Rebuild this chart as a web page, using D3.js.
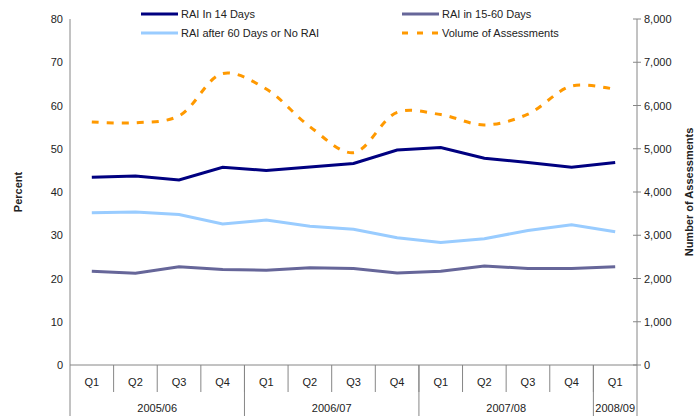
<!DOCTYPE html>
<html>
<head>
<meta charset="utf-8">
<script src="https://cdn.jsdelivr.net/npm/d3@7"></script>
<style>
  body { margin: 0; background: #fff; }
  text { font-family: "Liberation Sans", Arial, sans-serif; fill: #222; }
</style>
</head>
<body>
<div id="chart"></div>
<script>
const width = 696;
const height = 416;

// Data
const quarters = ["Q1","Q2","Q3","Q4","Q1","Q2","Q3","Q4","Q1","Q2","Q3","Q4","Q1"];
const years = [
  {label: "2005/06", n: 4},
  {label: "2006/07", n: 4},
  {label: "2007/08", n: 4},
  {label: "2008/09", n: 1}
];
const rai14 = [43.4, 43.7, 42.8, 45.7, 45.0, 45.8, 46.6, 49.7, 50.3, 47.8, 46.8, 45.7, 46.8];
const rai1560 = [21.7, 21.2, 22.7, 22.1, 21.9, 22.5, 22.3, 21.3, 21.7, 22.9, 22.3, 22.3, 22.7];
const raiAfter60 = [35.2, 35.4, 34.8, 32.6, 33.5, 32.1, 31.4, 29.4, 28.3, 29.2, 31.1, 32.4, 30.8];
const volume = [5620, 5600, 5760, 6740, 6380, 5510, 4910, 5840, 5790, 5550, 5800, 6450, 6370];
const leftTicks = [0, 10, 20, 30, 40, 50, 60, 70, 80];
const rightTicks = [0, 1000, 2000, 3000, 4000, 5000, 6000, 7000, 8000];

const plot = {left: 70, right: 637, top: 19, bottom: 365};
const axisColor = "#868686";

const svg = d3.select("#chart")
    .append("svg")
    .attr("width", width)
    .attr("height", height);

const x = d3.scaleBand()
    .domain(d3.range(quarters.length))
    .range([plot.left, plot.right]);

const yLeft = d3.scaleLinear().domain([0, 80]).range([plot.bottom, plot.top]);
const yRight = d3.scaleLinear().domain([0, 8000]).range([plot.bottom, plot.top]);

const cx = i => x(i) + x.bandwidth() / 2;

// Left axis
svg.append("line")
    .attr("x1", plot.left).attr("x2", plot.left)
    .attr("y1", plot.top).attr("y2", height)
    .attr("stroke", axisColor);

svg.selectAll(".ltick")
    .data(leftTicks)
    .enter()
    .append("text")
    .attr("x", 63)
    .attr("y", d => yLeft(d) + 4)
    .attr("text-anchor", "end")
    .attr("font-size", 11)
    .text(d => d);

// Right axis
svg.append("line")
    .attr("x1", plot.right).attr("x2", plot.right)
    .attr("y1", plot.top).attr("y2", height)
    .attr("stroke", axisColor);

svg.selectAll(".rtickline")
    .data(rightTicks)
    .enter()
    .append("line")
    .attr("x1", plot.right - 4).attr("x2", plot.right + 4)
    .attr("y1", d => yRight(d)).attr("y2", d => yRight(d))
    .attr("stroke", axisColor);

svg.selectAll(".rtick")
    .data(rightTicks)
    .enter()
    .append("text")
    .attr("x", 644)
    .attr("y", d => yRight(d) + 4)
    .attr("font-size", 11)
    .text(d => d3.format(",")(d));

// Bottom axis
svg.append("line")
    .attr("x1", plot.left).attr("x2", plot.right)
    .attr("y1", plot.bottom).attr("y2", plot.bottom)
    .attr("stroke", axisColor);

svg.selectAll(".qdiv")
    .data(d3.range(1, quarters.length))
    .enter()
    .append("line")
    .attr("x1", d => x(d)).attr("x2", d => x(d))
    .attr("y1", plot.bottom).attr("y2", 392)
    .attr("stroke", axisColor);

svg.selectAll(".qlabel")
    .data(quarters)
    .enter()
    .append("text")
    .attr("x", (d, i) => cx(i))
    .attr("y", 386)
    .attr("text-anchor", "middle")
    .attr("font-size", 11)
    .text(d => d);

// Year groups
let start = 0;
years.forEach(yr => {
    const x0 = x(start);
    const x1 = x(start + yr.n - 1) + x.bandwidth();
    if (start > 0) {
        svg.append("line")
            .attr("x1", x0).attr("x2", x0)
            .attr("y1", plot.bottom).attr("y2", height)
            .attr("stroke", axisColor);
    }
    svg.append("text")
        .attr("x", (x0 + x1) / 2)
        .attr("y", 412)
        .attr("text-anchor", "middle")
        .attr("font-size", 11)
        .text(yr.label);
    start += yr.n;
});

// Axis titles
svg.append("text")
    .attr("transform", `translate(22,${(plot.top + plot.bottom) / 2}) rotate(-90)`)
    .attr("text-anchor", "middle")
    .attr("font-size", 11)
    .attr("font-weight", "bold")
    .text("Percent");

svg.append("text")
    .attr("transform", `translate(693,${(plot.top + plot.bottom) / 2}) rotate(-90)`)
    .attr("text-anchor", "middle")
    .attr("font-size", 11)
    .attr("font-weight", "bold")
    .text("Number of Assessments");

// Lines
const series = [
    {name: "RAI In 14 Days", values: rai14, color: "#000080", width: 3, y: yLeft, curve: d3.curveLinear},
    {name: "RAI in 15-60 Days", values: rai1560, color: "#666699", width: 3, y: yLeft, curve: d3.curveLinear},
    {name: "RAI after 60 Days or No RAI", values: raiAfter60, color: "#99CCFF", width: 3, y: yLeft, curve: d3.curveLinear},
    {name: "Volume of Assessments", values: volume, color: "#FF9900", width: 3, y: yRight, curve: d3.curveCatmullRom, dash: "7,8"}
];

series.forEach(s => {
    const line = d3.line()
        .x((d, i) => cx(i))
        .y(d => s.y(d))
        .curve(s.curve);
    svg.append("path")
        .datum(s.values)
        .attr("d", line)
        .attr("fill", "none")
        .attr("stroke", s.color)
        .attr("stroke-width", s.width)
        .attr("stroke-dasharray", s.dash || null);
});

// Legend
const legendPos = [
    {x: 141, y: 14}, {x: 402, y: 14},
    {x: 141, y: 33}, {x: 402, y: 33}
];
const legendOrder = [0, 1, 2, 3];
legendOrder.forEach((k, j) => {
    const s = series[k];
    const p = legendPos[j];
    svg.append("line")
        .attr("x1", p.x).attr("x2", p.x + 37)
        .attr("y1", p.y).attr("y2", p.y)
        .attr("stroke", s.color)
        .attr("stroke-width", s.width)
        .attr("stroke-dasharray", s.dash ? "6,9" : null);
    svg.append("text")
        .attr("x", p.x + 40)
        .attr("y", p.y + 4)
        .attr("font-size", 11)
        .text(s.name);
});
</script>
</body>
</html>
